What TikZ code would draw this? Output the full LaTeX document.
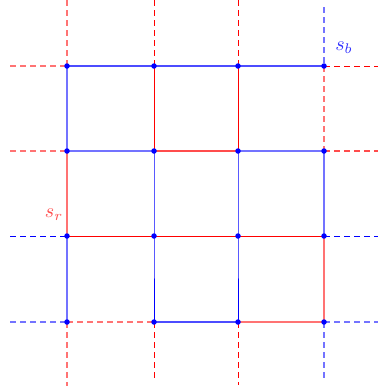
\documentclass[tikz,border=0pt]{standalone}
\begin{document}
\begin{tikzpicture}[x=1pt,y=-1pt,
  outer/.style={line width=2pt, opacity=0.55},
  mid/.style={line width=1.4pt, opacity=0.7},
  inner/.style={line width=1pt},
  dsh/.style={dash pattern=on 6pt off 4pt},
  rd/.style={red}, bl/.style={blue},
  lbl/.style={scale=2.0},
  dot/.style={circle, fill=blue, inner sep=0pt, minimum size=5.5pt}]
\useasboundingbox (0,0) rectangle (378,391);
% grid coordinates
\foreach \i/\x in {0/67,1/154,2/238,3/324}{
  \foreach \j/\y in {0/66,1/151,2/236,3/322}{
    \coordinate (p\i\j) at (\x,\y);
  }
}
% extension end points
\foreach \j/\y in {0/66,1/151,2/236,3/322}{
  \coordinate (L\j) at (10,\y);
  \coordinate (R\j) at (378,\y);
}
\coordinate (T0) at (67,0);
\coordinate (T1) at (154,0);
\coordinate (T2) at (238,0);
\coordinate (T3) at (324,7);
\coordinate (B0) at (67,386);
\coordinate (B1) at (154,380);
\coordinate (B2) at (238,385);
\coordinate (B3) at (324,381);
% row 0
\draw[outer,rd,dsh] (L0) -- (p00);
\draw[mid,bl] (p00) -- (p10) -- (p20) -- (p30);
\draw[inner,rd,dsh] (p30) -- (R0);
% row 1
\draw[outer,rd,dsh] (L1) -- (p01);
\draw[outer,bl] (p01) -- (p11);
\draw[mid,rd] (p11) -- (p21);
\draw[outer,bl] (p21) -- (p31);
\draw[mid,rd,dsh] (p31) -- (R1);
% row 2
\draw[inner,bl,dsh] (L2) -- (p02);
\draw[inner,rd] (p02) -- (p32);
\draw[inner,bl,dsh] (p32) -- (R2);
% row 3
\draw[outer,bl,dsh] (L3) -- (p03);
\draw[outer,rd,dsh] (p03) -- (p13);
\draw[mid,bl] (p13) -- (p23);
\draw[outer,rd] (p23) -- (p33);
\draw[outer,bl,dsh] (p33) -- (R3);
% column 0
\draw[outer,rd,dsh] (T0) -- (p00);
\draw[outer,bl] (p00) -- (p01);
\draw[outer,rd] (p01) -- (p02);
\draw[outer,bl] (p02) -- (p03);
\draw[outer,rd,dsh] (p03) -- (B0);
% columns 1 and 2
\foreach \i in {1,2}{
  \draw[inner,rd,dsh] (T\i) -- (p\i0);
  \draw[inner,rd] (p\i0) -- (p\i1);
  \draw[inner,bl] (p\i1) -- (p\i2) -- (p\i3);
  \draw[inner,rd,dsh] (p\i3) -- (B\i);
}
% column 3
\draw[outer,bl,dsh] (T3) -- (p30);
\draw[outer,rd,dsh] (p30) -- (p31);
\draw[outer,bl] (p31) -- (p32);
\draw[outer,rd] (p32) -- (p33);
\draw[outer,bl,dsh] (p33) -- (B3);
% dots
\foreach \i in {0,1,2,3}{
  \foreach \j in {0,1,2,3}{
    \node[dot] (d\i\j) at (p\i\j) {};
  }
}
% labels
\node[lbl, text=blue!80] (sb) at (344,48) {$s_b$};
\node[lbl, text=red!70] (sr) at (54,215) {$s_r$};
\end{tikzpicture}
\end{document}
